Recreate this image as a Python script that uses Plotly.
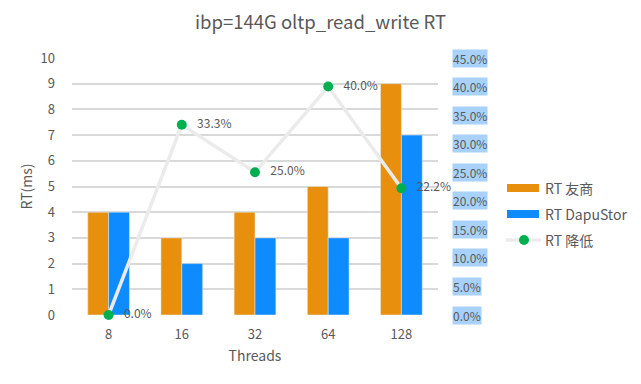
import plotly.graph_objects as go

threads = ["8", "16", "32", "64", "128"]
rt_youshang = [4, 3, 4, 5, 9]
rt_dapustor = [4, 2, 3, 3, 7]
rt_reduce = [0.0, 33.3, 25.0, 40.0, 22.2]
right_ticks = [0, 5, 10, 15, 20, 25, 30, 35, 40, 45]
series_names = ["RT 友商", "RT DapuStor", "RT 降低"]

FONT = "Noto Sans CJK SC"
GRAY = "#595959"
ORANGE = "#E8900E"
BLUE = "#0E8BFF"
LINE = "#EBEBEB"
GREEN = "#00B050"

# plot area in pixels: x 72..438, y 58..315
L, R, T, B = 72, 438, 58, 315
def px(x):
    return (x - L) / (R - L)
def py(y):
    return (B - y) / (B - T)

fig = go.Figure()
fig.add_trace(go.Bar(x=threads, y=rt_youshang, name=series_names[0], marker_color=ORANGE))
fig.add_trace(go.Bar(x=threads, y=rt_dapustor, name=series_names[1], marker_color=BLUE))
fig.add_trace(go.Scatter(x=threads, y=rt_reduce, name=series_names[2], yaxis="y2",
                         mode="lines+markers+text",
                         line=dict(color=LINE, width=3.5),
                         marker=dict(color=GREEN, size=10),
                         text=["\u00a0\u00a0\u00a0" + f"{v:.1f}%" for v in rt_reduce],
                         textposition="middle right",
                         textfont=dict(size=12, color=GRAY, family=FONT),
                         cliponaxis=False))

for t in right_ticks:
    fig.add_annotation(x=1, xref="paper", y=t, yref="y2", text=f"{t:.1f}%",
                       showarrow=False, xanchor="left", xshift=14,
                       bgcolor="#A8D2FC", borderpad=0,
                       font=dict(size=12, color=GRAY, family=FONT))

# custom legend
shapes = []
leg_y = [188, 214, 240]
shapes.append(dict(type="rect", xref="paper", yref="paper", x0=px(507), x1=px(539),
                   y0=py(192), y1=py(184), fillcolor=ORANGE, line=dict(width=0)))
shapes.append(dict(type="rect", xref="paper", yref="paper", x0=px(507), x1=px(539),
                   y0=py(218), y1=py(210), fillcolor=BLUE, line=dict(width=0)))
shapes.append(dict(type="line", xref="paper", yref="paper", x0=px(506), x1=px(541),
                   y0=py(240), y1=py(240), line=dict(color=LINE, width=3.5)))
shapes.append(dict(type="circle", xref="paper", yref="paper", x0=px(519), x1=px(529),
                   y0=py(245), y1=py(235), fillcolor=GREEN, line=dict(width=0)))
for name, yy in zip(series_names, leg_y):
    fig.add_annotation(x=px(543), y=py(yy), xref="paper", yref="paper", text=name,
                       showarrow=False, xanchor="left", yanchor="middle",
                       font=dict(size=14, color=GRAY, family=FONT))

fig.update_layout(
    width=641, height=384,
    margin=dict(l=L, r=641 - R, t=T, b=384 - B, autoexpand=False),
    paper_bgcolor="white", plot_bgcolor="white",
    font=dict(family=FONT, color=GRAY, size=13),
    title=dict(text="ibp=144G oltp_read_write RT", x=0.5, xanchor="center",
               y=1 - 23 / 384, yanchor="middle", font=dict(size=18.5, color=GRAY, family=FONT)),
    barmode="group", bargap=0.43, bargroupgap=0,
    shapes=shapes,
    xaxis=dict(title=dict(text="Threads", font=dict(size=14), standoff=9),
               tickfont=dict(size=13), showgrid=False, ticks="", automargin=False,
               ticklabelstandoff=10, showline=False, zeroline=False),
    yaxis=dict(title=dict(text="RT(ms)", font=dict(size=14), standoff=4),
               range=[0, 10], dtick=1, gridcolor="#D9D9D9", gridwidth=1.5,
               tickfont=dict(size=13), zeroline=False, ticks="", automargin=False,
               ticklabelstandoff=16),
    yaxis2=dict(overlaying="y", side="right", range=[0, 45], dtick=5,
                showgrid=False, showticklabels=False, zeroline=False),
    showlegend=False,
)

fig.write_html("out.html", config={"displayModeBar": False},
               post_script="document.body.style.margin='0';")
